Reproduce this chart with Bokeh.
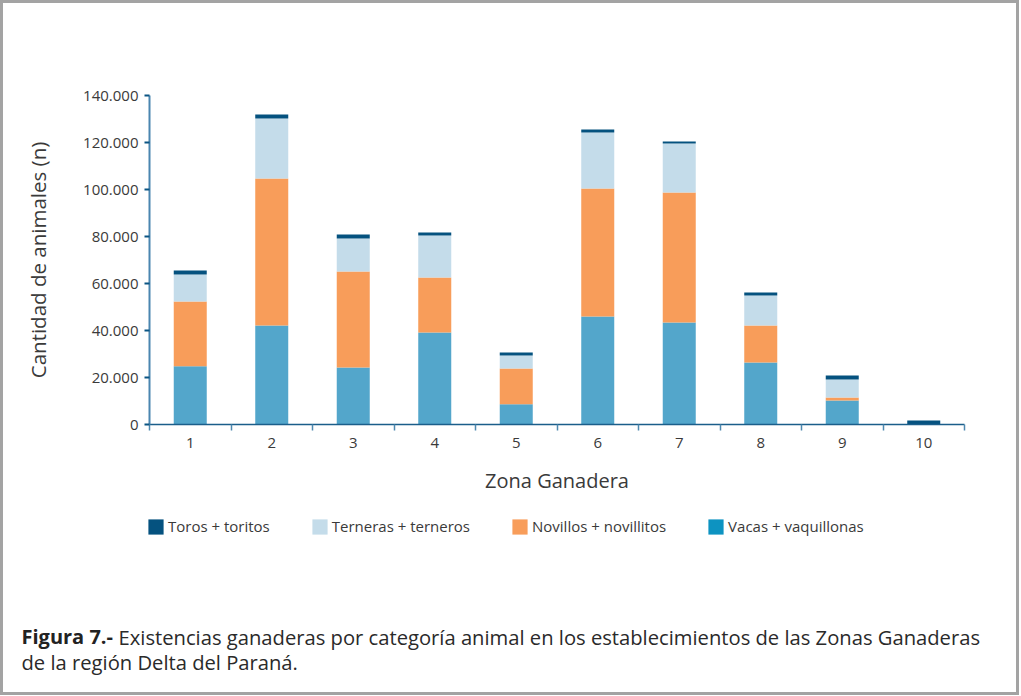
from bokeh.plotting import figure
from bokeh.layouts import column
from bokeh.models import (ColumnDataSource, Range1d, FixedTicker, Legend, LegendItem,
                          Label, LinearAxis)
from bokeh.embed import file_html
from bokeh.resources import INLINE

# ---------------- data ----------------
zones = [1, 2, 3, 4, 5, 6, 7, 8, 9, 10]
zone_labels = ["1", "2", "3", "4", "5", "6", "7", "8", "9", "10"]
vacas = [24800, 42100, 24300, 39100, 8600, 46000, 43400, 26400, 10200, 0]
novillos = [27500, 62600, 40800, 23500, 15200, 54400, 55300, 15700, 1300, 0]
terneras = [11500, 25500, 14000, 17800, 5600, 23900, 20900, 12800, 7600, 0]
toros = [1700, 1700, 1800, 1300, 1200, 1200, 800, 1300, 1800, 1700]

series_keys = ["vacas", "novillos", "terneras", "toros"]
series_names = ["Vacas + vaquillonas", "Novillos + novillitos", "Terneras + terneros", "Toros + toritos"]
y_ticks = [0, 20000, 40000, 60000, 80000, 100000, 120000, 140000]
y_tick_labels = ["0", "20.000", "40.000", "60.000", "80.000", "100.000", "120.000", "140.000"]

x_title = "Zona Ganadera"
y_title = "Cantidad de animales (n)"
caption_bold = "Figura 7.-"
caption_line1 = "Existencias ganaderas por categoría animal en los establecimientos de las Zonas Ganaderas"
caption_line2 = "de la región Delta del Paraná."

# ---------------- style ----------------
FONT = "Open Sans"
TXT = "#3a3a3a"
c_vacas = "#53A6CB"
c_vacas_leg = "#0D93C1"
c_nov = "#F89D5A"
c_ter = "#C4DCEA"
c_tor = "#05527F"
BORDER = "3px solid #a3a3a3"

W = 1019
H1, H2 = 505, 190
B = 3                                  # css border width
FL, FT, FR, FB = 149, 95, 964, 424     # chart frame edges (page px)

source = ColumnDataSource(dict(x=zones, vacas=vacas, novillos=novillos,
                               terneras=terneras, toros=toros))

# ---------------- chart ----------------
p = figure(width=W, height=H1, output_backend="svg", toolbar_location=None,
           x_range=Range1d(0.5, 10.5), y_range=Range1d(0, 140000),
           min_border_left=FL - B, min_border_top=FT - B,
           min_border_right=W + B - FR, min_border_bottom=H1 + B - FB,
           x_axis_type=None, y_axis_type=None)
p.styles = {"border-top": BORDER, "border-left": BORDER, "border-right": BORDER}
p.outline_line_color = None

rs = p.vbar_stack(series_keys, x="x", width=0.405,
                  fill_color=[c_vacas, c_nov, c_ter, c_tor], line_color=None,
                  source=source)

yaxis = LinearAxis(ticker=FixedTicker(ticks=y_ticks))
yaxis.major_label_overrides = {t: l for t, l in zip(y_ticks, y_tick_labels)}
yaxis.axis_line_color = "#4A86B0"
yaxis.axis_line_width = 2
yaxis.major_tick_line_color = "#0B5583"
yaxis.major_tick_line_width = 2
yaxis.major_tick_out = 5
yaxis.major_tick_in = 0
yaxis.minor_tick_line_color = None
yaxis.major_label_standoff = 6
yaxis.major_label_text_font = FONT
yaxis.major_label_text_font_size = "15px"
yaxis.major_label_text_color = TXT
yaxis.axis_label = y_title
yaxis.axis_label_text_font = FONT
yaxis.axis_label_text_font_size = "20.5px"
yaxis.axis_label_text_font_style = "normal"
yaxis.axis_label_text_color = TXT
yaxis.axis_label_standoff = 28
p.add_layout(yaxis, "left")

xaxis = LinearAxis(ticker=FixedTicker(ticks=zones,
                                      minor_ticks=[z - 0.5 for z in zones] + [zones[-1] + 0.5]))
xaxis.major_label_overrides = {z: l for z, l in zip(zones, zone_labels)}
xaxis.axis_line_color = "#1B5E8A"
xaxis.axis_line_width = 1.5
xaxis.major_tick_line_color = None
xaxis.major_tick_out = 0
xaxis.major_tick_in = 0
xaxis.minor_tick_line_color = "#4F89AF"
xaxis.minor_tick_line_width = 1.5
xaxis.minor_tick_out = 6
xaxis.minor_tick_in = 0
xaxis.major_label_standoff = 7
xaxis.major_label_text_font = FONT
xaxis.major_label_text_font_size = "15px"
xaxis.major_label_text_color = TXT
xaxis.axis_label = x_title
xaxis.axis_label_text_font = FONT
xaxis.axis_label_text_font_size = "20px"
xaxis.axis_label_text_font_style = "normal"
xaxis.axis_label_text_color = TXT
xaxis.axis_label_standoff = 16
p.add_layout(xaxis, "below")

p.xgrid.visible = False
p.ygrid.ticker = FixedTicker(ticks=y_ticks)
p.ygrid.grid_line_color = "#C0C0C0"
p.ygrid.grid_line_width = 1.5
p.ygrid.level = "underlay"

# ---------------- legend + caption panel (page-pixel coordinates) ----------------
q = figure(width=W, height=H2, output_backend="svg", toolbar_location=None,
           x_range=Range1d(B, W + B), y_range=Range1d(H1 + H2, H1),
           min_border=0, x_axis_type=None, y_axis_type=None)
q.styles = {"border-left": BORDER, "border-right": BORDER, "border-bottom": BORDER}
q.outline_line_color = None
q.grid.visible = False

for fig in (p, q):
    if "frame_align" in fig.properties():
        fig.frame_align = False

# legend swatches: hidden copies of the series (only their legend glyphs are shown)
leg_order = [3, 2, 1, 0]
leg_colors = {0: c_vacas_leg, 1: c_nov, 2: c_ter, 3: c_tor}
items = []
for i in leg_order:
    r = q.vbar(x="x", top=series_keys[i], width=0.4, source=source,
               fill_color=leg_colors[i], line_color=None, visible=False)
    items.append(LegendItem(label=series_names[i], renderers=[r]))

legend = Legend(items=items, orientation="horizontal",
                location=(146 - B, H1 + H2 - 536))
legend.glyph_width = 19
legend.glyph_height = 19
legend.label_height = 19
legend.label_standoff = 3
legend.spacing = 40
legend.padding = 0
legend.margin = 0
legend.border_line_color = None
legend.background_fill_alpha = 0
legend.inactive_fill_alpha = 0
legend.label_text_font = FONT
legend.label_text_font_size = "15px"
legend.label_text_color = TXT
q.add_layout(legend, "center")

q.add_layout(Label(x=21, y=636, text=caption_bold, text_font=FONT,
                   text_font_style="bold", text_font_size="20px", text_color="#222222",
                   text_baseline="middle", text_align="left"))
q.add_layout(Label(x=118, y=636, text=caption_line1, text_font=FONT,
                   text_font_size="20.2px", text_color="#2a2a2a",
                   text_baseline="middle", text_align="left"))
q.add_layout(Label(x=21, y=661, text=caption_line2, text_font=FONT,
                   text_font_size="20.2px", text_color="#2a2a2a",
                   text_baseline="middle", text_align="left"))

layout = column(p, q, spacing=0)
open("out.html", "w").write(file_html(layout, INLINE))
